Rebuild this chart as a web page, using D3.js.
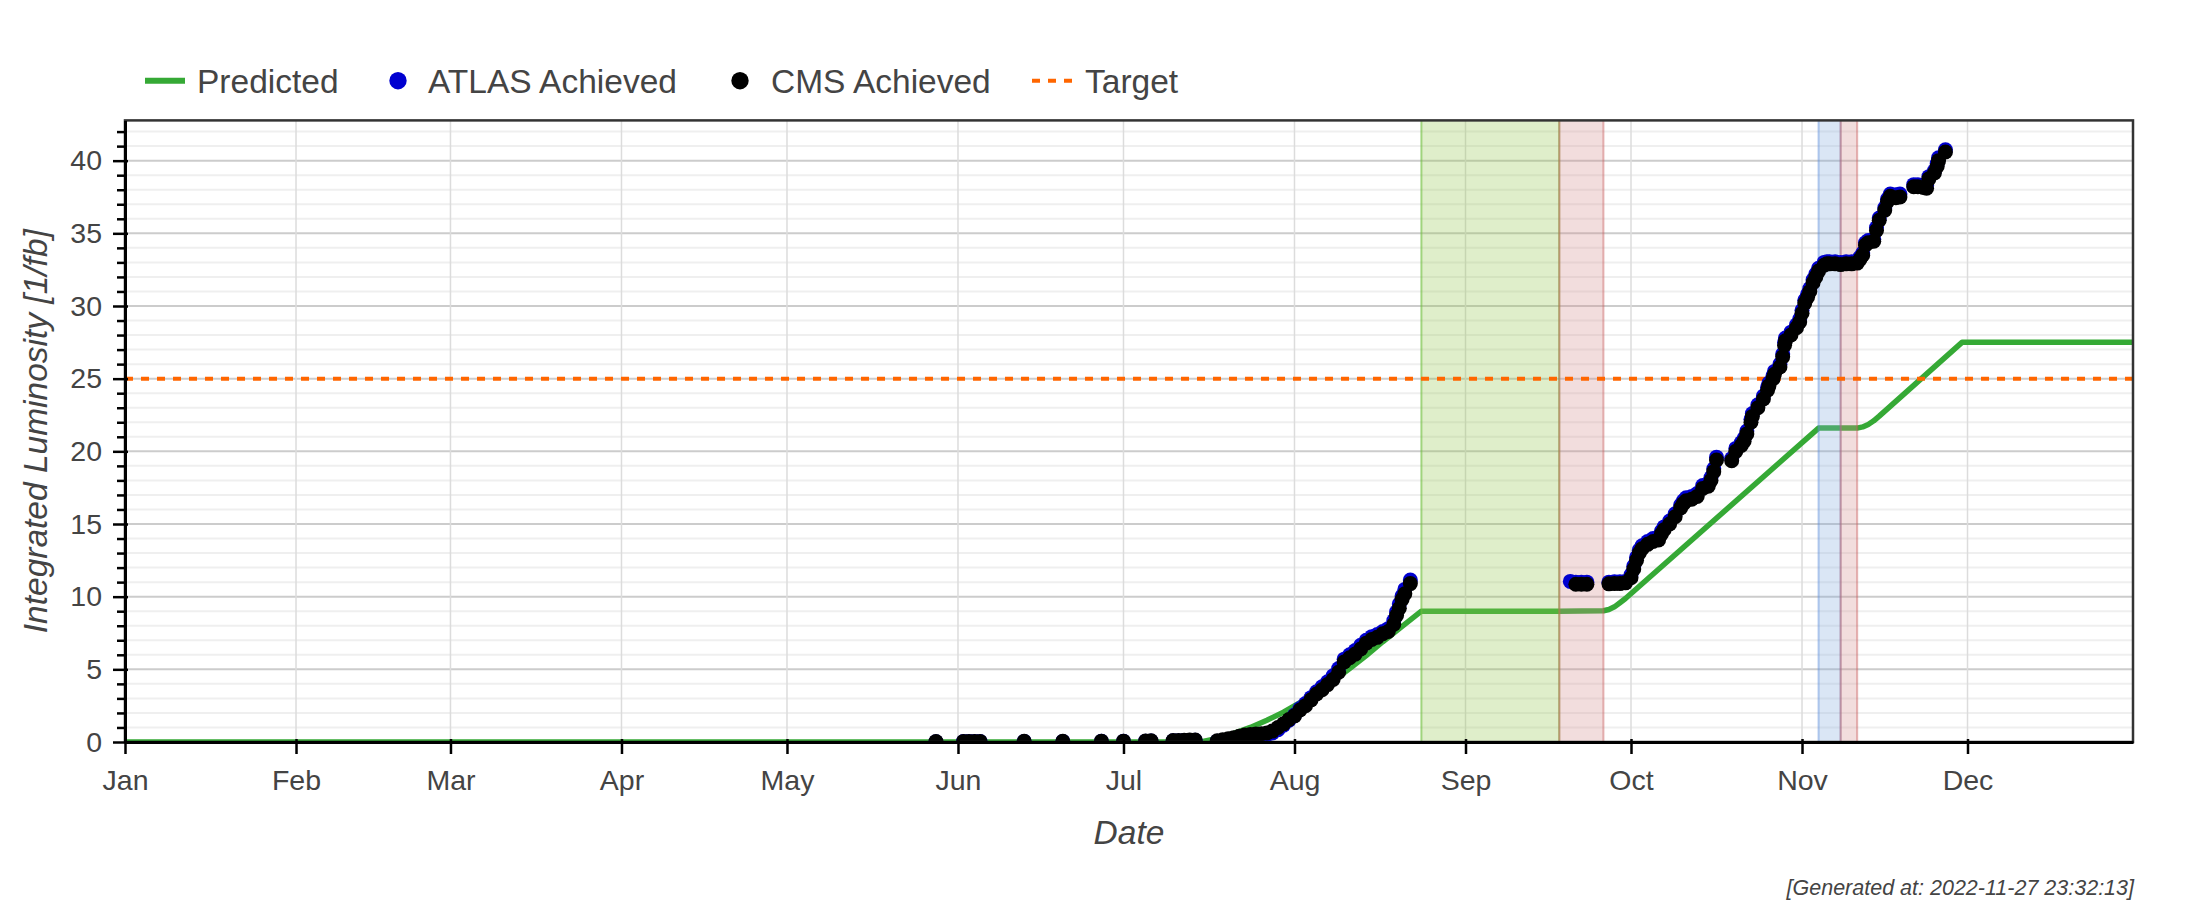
<!DOCTYPE html>
<html>
<head>
<meta charset="utf-8">
<script src="https://cdn.jsdelivr.net/npm/d3@7"></script>
<style>
  body { margin: 0; background: #fff; }
  svg { display: block; font-family: 'Liberation Sans', Arial, sans-serif; }
</style>
</head>
<body>
<svg id="chart"></svg>
<script>
// integrated luminosity, 2022 run
const YEAR = "2022";

// predicted curve: [month-day, 1/fb]
const predicted = [
	["01-01", 0], ["07-15", 0], ["07-18", 0.25], ["07-21", 0.6], ["07-24", 1.0], ["07-27", 1.5],
	["07-30", 2.05], ["08-02", 2.7], ["08-05", 3.4], ["08-08", 4.2], ["08-11", 5.05], ["08-14", 5.95],
	["08-17", 6.9], ["08-20", 7.8], ["08-24", 9.0], ["09-18", 9.0], ["09-26", 9.03], ["09-27", 9.12],
	["09-28", 9.3], ["09-29", 9.58], ["09-30", 9.87], ["11-04", 21.6], ["11-11", 21.6], ["11-12", 21.68],
	["11-13", 21.85], ["11-14", 22.1], ["11-15", 22.42], ["11-30", 27.5], ["12-31", 27.5]
];

const atlasAchieved = [
	["05-28", 0.02], ["06-02", 0.03], ["06-03", 0.03], ["06-04", 0.03], ["06-05", 0.03], ["06-13", 0.04],
	["06-20", 0.04], ["06-27", 0.05], ["07-01", 0.05], ["07-05", 0.06], ["07-06", 0.07], ["07-10", 0.08],
	["07-11", 0.09], ["07-12", 0.1], ["07-13", 0.11], ["07-14", 0.12],
	["07-18", 0.06], ["07-19", 0.1], ["07-20", 0.14], ["07-21", 0.18], ["07-22", 0.22], ["07-23", 0.28],
	["07-24", 0.32], ["07-25", 0.36], ["07-26", 0.42], ["07-27", 0.5], ["07-28", 0.62], ["07-29", 0.85],
	["07-30", 1.15], ["07-31", 1.5], ["08-01", 1.85], ["08-02", 2.3], ["08-03", 2.65], ["08-04", 3.05],
	["08-05", 3.45], ["08-06", 3.8], ["08-07", 4.15], ["08-08", 4.55], ["08-09", 5.05], ["08-10", 5.7],
	["08-11", 6.0], ["08-12", 6.3], ["08-13", 6.65], ["08-14", 7.0], ["08-15", 7.25], ["08-16", 7.4],
	["08-17", 7.6], ["08-18", 7.8], ["08-19", 8.35], ["08-19T12", 8.95], ["08-20", 9.5], ["08-20T12", 10.05],
	["08-21", 10.5], ["08-22", 11.15],
	["09-20", 11.05], ["09-21", 11.0], ["09-22", 11.0], ["09-23", 11.0], ["09-27", 11.0], ["09-28", 11.02],
	["09-29", 11.02], ["09-30", 11.05],
	["10-01", 11.5], ["10-01T12", 12.1], ["10-02", 12.7], ["10-02T12", 13.2], ["10-03", 13.5], ["10-04", 13.8],
	["10-05", 14.0], ["10-06", 14.1], ["10-06T12", 14.5], ["10-07", 14.8], ["10-08", 15.2], ["10-09", 15.7],
	["10-10", 16.3], ["10-10T12", 16.6], ["10-11", 16.8], ["10-12", 16.9], ["10-13", 17.1], ["10-14", 17.65],
	["10-15", 17.8], ["10-15T12", 18.2], ["10-16", 18.8], ["10-16T12", 19.6], ["10-19T06", 19.5], ["10-20", 20.2],
	["10-21", 20.6], ["10-21T12", 20.9], ["10-22", 21.4], ["10-22T18", 22.2], ["10-23", 22.6], ["10-24", 23.2],
	["10-25", 23.8], ["10-25T18", 24.4], ["10-26", 24.7], ["10-26T18", 25.2], ["10-27", 25.5], ["10-28", 26.0],
	["10-28T12", 26.7], ["10-28T20", 27.5], ["10-29", 27.8], ["10-30", 28.2], ["10-31", 28.7], ["10-31T14", 29.1],
	["11-01", 29.7], ["11-01T12", 30.4], ["11-02", 30.8], ["11-02T10", 31.2], ["11-03", 31.8], ["11-03T12", 32.2],
	["11-04", 32.6], ["11-05", 33.0], ["11-05T12", 33.05], ["11-06", 33.05], ["11-07", 33.05], ["11-08", 33.0],
	["11-09", 33.05], ["11-10", 33.05], ["11-11", 33.1], ["11-11T12", 33.35], ["11-12", 33.65], ["11-12T12", 34.35],
	["11-13", 34.5], ["11-14", 34.6], ["11-14T12", 35.4], ["11-15", 36.05], ["11-16", 36.75], ["11-16T12", 37.35],
	["11-17", 37.7], ["11-18", 37.65], ["11-18T18", 37.7], ["11-21T06", 38.35], ["11-22", 38.35], ["11-23", 38.3],
	["11-23T14", 38.3], ["11-24", 38.9], ["11-25", 39.3], ["11-25T12", 39.8], ["11-25T18", 40.2], ["11-27", 40.75]
];

const cmsAchieved = [
	["05-28", 0.03], ["06-02", 0.04], ["06-03", 0.04], ["06-04", 0.04], ["06-05", 0.04], ["06-13", 0.05],
	["06-20", 0.05], ["06-27", 0.06], ["07-01", 0.06], ["07-05", 0.07], ["07-06", 0.08], ["07-10", 0.1],
	["07-11", 0.11], ["07-12", 0.12], ["07-13", 0.13], ["07-14", 0.14],
	["07-18", 0.08], ["07-19", 0.15], ["07-20", 0.22], ["07-21", 0.3], ["07-22", 0.4], ["07-23", 0.48],
	["07-24", 0.52], ["07-25", 0.55], ["07-26", 0.57], ["07-27", 0.62], ["07-28", 0.75], ["07-29", 1.0],
	["07-30", 1.25], ["07-31", 1.55], ["08-01", 1.8], ["08-02", 2.2], ["08-03", 2.5], ["08-04", 2.9],
	["08-05", 3.3], ["08-06", 3.6], ["08-07", 3.95], ["08-08", 4.3], ["08-09", 4.8], ["08-10", 5.5],
	["08-11", 5.8], ["08-12", 6.05], ["08-13", 6.4], ["08-14", 6.8], ["08-15", 7.05], ["08-16", 7.2],
	["08-17", 7.45], ["08-18", 7.6], ["08-19", 8.1], ["08-19T12", 8.7], ["08-20", 9.2], ["08-20T12", 9.8],
	["08-21", 10.2], ["08-22", 10.9],
	["09-21", 10.85], ["09-22", 10.85], ["09-23", 10.85], ["09-27", 10.88], ["09-28", 10.9], ["09-29", 10.9],
	["09-30", 10.95],
	["10-01", 11.3], ["10-01T12", 11.9], ["10-02", 12.5], ["10-02T12", 13.0], ["10-03", 13.3], ["10-04", 13.6],
	["10-05", 13.8], ["10-06", 13.9], ["10-06T12", 14.3], ["10-07", 14.6], ["10-08", 15.0], ["10-09", 15.5],
	["10-10", 16.1], ["10-10T12", 16.4], ["10-11", 16.6], ["10-12", 16.7], ["10-13", 16.9], ["10-14", 17.45],
	["10-15", 17.6], ["10-15T12", 18.0], ["10-16", 18.6], ["10-16T12", 19.4], ["10-19T06", 19.35], ["10-20", 20.0],
	["10-21", 20.4], ["10-21T12", 20.7], ["10-22", 21.2], ["10-22T18", 22.0], ["10-23", 22.4], ["10-24", 23.0],
	["10-25", 23.6], ["10-25T18", 24.2], ["10-26", 24.5], ["10-26T18", 25.0], ["10-27", 25.3], ["10-28", 25.8],
	["10-28T12", 26.5], ["10-28T20", 27.3], ["10-29", 27.6], ["10-30", 28.0], ["10-31", 28.5], ["10-31T14", 28.9],
	["11-01", 29.5], ["11-01T12", 30.2], ["11-02", 30.6], ["11-02T10", 31.0], ["11-03", 31.6], ["11-03T12", 32.0],
	["11-04", 32.4], ["11-05", 32.8], ["11-05T12", 32.9], ["11-06", 32.9], ["11-07", 32.9], ["11-08", 32.85],
	["11-09", 32.9], ["11-10", 32.9], ["11-11", 32.95], ["11-11T12", 33.2], ["11-12", 33.5], ["11-12T12", 34.2],
	["11-13", 34.35], ["11-14", 34.45], ["11-14T12", 35.2], ["11-15", 35.9], ["11-16", 36.6], ["11-16T12", 37.2],
	["11-17", 37.55], ["11-18", 37.45], ["11-18T18", 37.5], ["11-21T06", 38.2], ["11-22", 38.2], ["11-23", 38.15],
	["11-23T14", 38.1], ["11-24", 38.75], ["11-25", 39.15], ["11-25T12", 39.6], ["11-25T18", 40.0], ["11-27", 40.6]
];

const TARGET = 25;

// shaded periods
const bandStarts = ["08-24", "09-18", "11-04", "11-08"];
const bandEnds = ["09-18", "09-26", "11-08", "11-11"];
const bandKinds = ["A", "B", "C", "B"];

const monthLabels = ["Jan", "Feb", "Mar", "Apr", "May", "Jun", "Jul", "Aug", "Sep", "Oct", "Nov", "Dec"];
const yTicks = [0, 5, 10, 15, 20, 25, 30, 35, 40];
const yMax = 42.77;
const legendLabels = ["Predicted", "ATLAS Achieved", "CMS Achieved", "Target"];
const generatedAt = "[Generated at: 2022-11-27 23:32:13]";

// layout
const WIDTH = 2192;
const HEIGHT = 906;
const frameLeft = 125, frameRight = 2133, frameTop = 120.4, frameBottom = 742;
const textColor = "#444";

const parseDay = s => new Date(`${YEAR}-${s.includes("T") ? s + ":00" : s + "T00:00"}`);

const xScale = d3.scaleTime()
	.domain([parseDay("01-01"), parseDay("12-31")])
	.range([frameLeft, frameRight]);

const yScale = d3.scaleLinear()
	.domain([0, yMax])
	.range([frameBottom, frameTop]);

const bandFill = d3.scaleOrdinal()
	.domain(["A", "B", "C"])
	.range(["rgba(148,198,78,0.3)", "rgba(212,142,142,0.3)", "rgba(132,172,222,0.3)"]);
const bandEdge = d3.scaleOrdinal()
	.domain(["A", "B", "C"])
	.range(["rgba(110,190,60,0.6)", "rgba(200,90,90,0.45)", "rgba(90,140,220,0.45)"]);

const svg = d3.select("#chart")
	.attr("width", WIDTH)
	.attr("height", HEIGHT);

svg.append("defs").append("clipPath")
	.attr("id", "frame")
	.append("rect")
		.attr("x", frameLeft)
		.attr("y", frameTop)
		.attr("width", frameRight - frameLeft)
		.attr("height", frameBottom - frameTop);

const months = d3.timeMonth.range(parseDay("01-01"), parseDay("12-31"));
const minorY = d3.range(1, Math.floor(yMax) + 1).filter(v => v % 5 !== 0);

// grid
const grid = svg.append("g");
grid.selectAll("line.minor")
	.data(minorY)
	.join("line")
		.attr("class", "minor")
		.attr("x1", frameLeft).attr("x2", frameRight)
		.attr("y1", yScale).attr("y2", yScale)
		.attr("stroke", "#efefef")
		.attr("stroke-width", 2);
grid.selectAll("line.major")
	.data(yTicks.slice(1))
	.join("line")
		.attr("class", "major")
		.attr("x1", frameLeft).attr("x2", frameRight)
		.attr("y1", yScale).attr("y2", yScale)
		.attr("stroke", "#cccccc")
		.attr("stroke-width", 2);
grid.selectAll("line.vert")
	.data(months.slice(1))
	.join("line")
		.attr("class", "vert")
		.attr("x1", xScale).attr("x2", xScale)
		.attr("y1", frameTop).attr("y2", frameBottom)
		.attr("stroke", "#dcdcdc")
		.attr("stroke-width", 1.5);

const plot = svg.append("g").attr("clip-path", "url(#frame)");

// predicted line
const line = d3.line()
	.x(d => xScale(parseDay(d[0])))
	.y(d => yScale(d[1]));

plot.append("path")
	.datum(predicted)
	.attr("fill", "none")
	.attr("stroke", "#35a935")
	.attr("stroke-width", 5.5)
	.attr("stroke-linejoin", "round")
	.attr("d", line);

// shaded periods
const bands = bandStarts.map((s, i) => ({ start: parseDay(s), end: parseDay(bandEnds[i]), kind: bandKinds[i] }));
const bandG = plot.selectAll("g.band")
	.data(bands)
	.join("g")
		.attr("class", "band");
bandG.append("rect")
	.attr("x", d => xScale(d.start))
	.attr("width", d => xScale(d.end) - xScale(d.start))
	.attr("y", frameTop)
	.attr("height", frameBottom - frameTop)
	.attr("fill", d => bandFill(d.kind));
bandG.selectAll("line")
	.data(d => [d.start, d.end].map(t => ({ t, kind: d.kind })))
	.join("line")
		.attr("x1", d => xScale(d.t)).attr("x2", d => xScale(d.t))
		.attr("y1", frameTop).attr("y2", frameBottom)
		.attr("stroke", d => bandEdge(d.kind))
		.attr("stroke-width", 2);

// target
plot.append("line")
	.attr("x1", frameLeft).attr("x2", frameRight)
	.attr("y1", yScale(TARGET)).attr("y2", yScale(TARGET))
	.attr("stroke", "#ff6600")
	.attr("stroke-width", 4)
	.attr("stroke-dasharray", "8,8");

// achieved
const dotR = 7.5;
plot.append("g")
	.selectAll("circle")
	.data(atlasAchieved)
	.join("circle")
		.attr("cx", d => xScale(parseDay(d[0])))
		.attr("cy", d => yScale(d[1]))
		.attr("r", dotR)
		.attr("fill", "#0000d0");
plot.append("g")
	.selectAll("circle")
	.data(cmsAchieved)
	.join("circle")
		.attr("cx", d => xScale(parseDay(d[0])))
		.attr("cy", d => yScale(d[1]))
		.attr("r", dotR)
		.attr("fill", "#000");

// outline
svg.append("rect")
	.attr("x", frameLeft).attr("y", frameTop)
	.attr("width", frameRight - frameLeft).attr("height", frameBottom - frameTop)
	.attr("fill", "none")
	.attr("stroke", "#333")
	.attr("stroke-width", 2.5);

// axes
const xAxis = svg.append("g")
	.attr("transform", `translate(0,${frameBottom})`)
	.call(d3.axisBottom(xScale)
		.tickValues(months)
		.tickFormat((d, i) => monthLabels[i])
		.tickSize(12)
		.tickSizeOuter(0)
		.tickPadding(16));
xAxis.selectAll(".tick line").attr("y1", -3).attr("stroke-width", 2.5);
xAxis.select(".domain").attr("stroke-width", 3);

const yAxis = svg.append("g")
	.attr("transform", `translate(${frameLeft},0)`)
	.call(d3.axisLeft(yScale)
		.tickValues(yTicks)
		.tickSize(12)
		.tickSizeOuter(0)
		.tickPadding(11));
yAxis.selectAll(".tick line").attr("x1", 3).attr("stroke-width", 2.5);
yAxis.select(".domain").attr("stroke-width", 3);

svg.append("g")
	.attr("transform", `translate(${frameLeft},0)`)
	.call(d3.axisLeft(yScale).tickValues(minorY).tickSize(8).tickFormat(""))
	.call(g => g.select(".domain").remove())
	.selectAll(".tick line").attr("stroke-width", 2.5);

svg.selectAll(".tick text")
	.attr("fill", textColor)
	.style("font-family", "'Liberation Sans', Arial, sans-serif")
	.style("font-size", "28.5px");

// axis titles
svg.append("text")
	.attr("transform", `translate(47,${(frameTop + frameBottom) / 2}) rotate(-90)`)
	.attr("text-anchor", "middle")
	.attr("fill", textColor)
	.style("font-size", "33.5px")
	.style("font-style", "italic")
	.text("Integrated Luminosity [1/fb]");

svg.append("text")
	.attr("x", (frameLeft + frameRight) / 2)
	.attr("y", 844)
	.attr("text-anchor", "middle")
	.attr("fill", textColor)
	.style("font-size", "33.5px")
	.style("font-style", "italic")
	.text("Date");

// legend
const legendY = 80.7;
const legendGlyphX = [145, 378, 720, 1032];
const legendTextX = [197, 428, 771, 1085];
const legend = svg.append("g");
legend.append("line")
	.attr("x1", legendGlyphX[0]).attr("x2", legendGlyphX[0] + 40)
	.attr("y1", legendY).attr("y2", legendY)
	.attr("stroke", "#35a935").attr("stroke-width", 6);
legend.append("circle")
	.attr("cx", legendGlyphX[1] + 20).attr("cy", legendY).attr("r", 8.7)
	.attr("fill", "#0000d0");
legend.append("circle")
	.attr("cx", legendGlyphX[2] + 20).attr("cy", legendY).attr("r", 8.7)
	.attr("fill", "#000");
legend.append("line")
	.attr("x1", legendGlyphX[3]).attr("x2", legendGlyphX[3] + 40)
	.attr("y1", legendY).attr("y2", legendY)
	.attr("stroke", "#ff6600").attr("stroke-width", 4)
	.attr("stroke-dasharray", "8,8");
legend.selectAll("text")
	.data(legendLabels)
	.join("text")
		.attr("x", (d, i) => legendTextX[i])
		.attr("y", legendY + 12)
		.attr("fill", textColor)
		.style("font-size", "33.5px")
		.text(d => d);

// footer
svg.append("text")
	.attr("x", 2134)
	.attr("y", 895)
	.attr("text-anchor", "end")
	.attr("fill", textColor)
	.style("font-size", "21.5px")
	.style("font-style", "italic")
	.text(generatedAt);
</script>
</body>
</html>
